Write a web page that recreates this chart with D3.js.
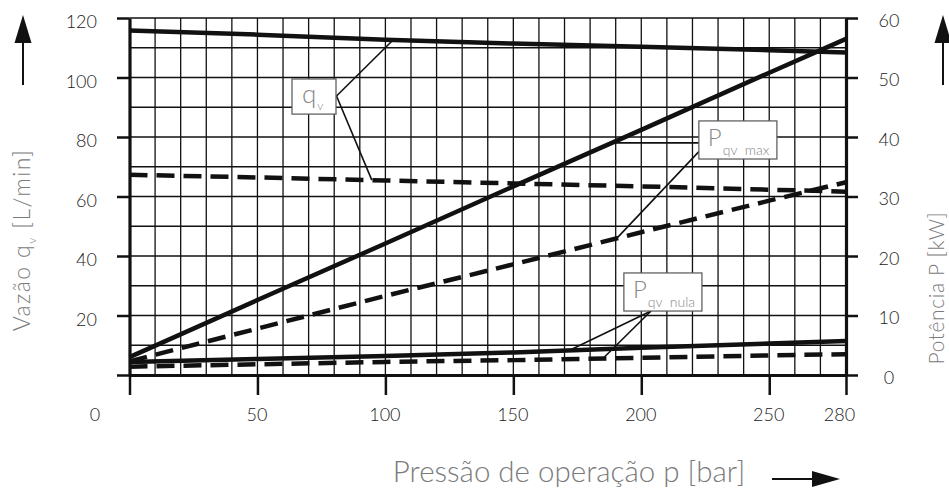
<!DOCTYPE html>
<html>
<head>
<meta charset="utf-8">
<script src="https://cdn.jsdelivr.net/npm/d3@7"></script>
<style>
body { margin: 0; background: #fff; }
text { font-family: Lato, "Open Sans", sans-serif; font-weight: 300; }
</style>
</head>
<body>
<svg></svg>
<script>
var width = 949;
var height = 488;

// pressure [bar] at which curves were read
var pressures = [0, 50, 100, 150, 200, 250, 280];
// flow q_v [L/min]
var qvMax  = [115.8, 114.4, 112.7, 111.4, 110.3, 109.2, 108.4];
var qvNula = [67.3, 66.4, 65.4, 64.4, 63.4, 62.3, 61.6];
// power P [kW]
var pMax   = [3.0, 12.6, 22.1, 31.7, 41.2, 50.8, 56.5];
var pMaxD  = [2.3, 7.8, 13.3, 18.6, 24.0, 29.3, 32.4];
var pNula  = [2.2, 2.7, 3.2, 3.8, 4.6, 5.3, 5.7];
var pNulaD = [1.4, 1.8, 2.2, 2.5, 2.9, 3.3, 3.5];

var xTicks = [0, 50, 100, 150, 200, 250, 280];
var qTicks = [0, 20, 40, 60, 80, 100, 120];
var pTicks = [0, 10, 20, 30, 40, 50, 60];

var svg = d3.select("svg").attr("width", width).attr("height", height);

var x = d3.scaleLinear().domain([0, 280]).range([129.5, 846]);
var yQ = d3.scaleLinear().domain([0, 120]).range([375, 18]);
var yP = d3.scaleLinear().domain([0, 60]).range([375, 18]);

var curves = [
  {values: qvMax,  y: yQ, dashed: false},
  {values: qvNula, y: yQ, dashed: true},
  {values: pMax,   y: yP, dashed: false},
  {values: pMaxD,  y: yP, dashed: true},
  {values: pNula,  y: yP, dashed: false},
  {values: pNulaD, y: yP, dashed: true}
];

// grid
var grid = svg.append("g").attr("class", "grid")
  .attr("stroke", "#111").attr("stroke-width", 1.3);
grid.selectAll("line.v").data(d3.range(10, 280, 10)).enter()
  .append("line").attr("class", "v")
  .attr("x1", function(d){ return x(d); }).attr("x2", function(d){ return x(d); })
  .attr("y1", yQ(0)).attr("y2", yQ(120));
grid.selectAll("line.h").data(d3.range(10, 121, 10)).enter()
  .append("line").attr("class", "h")
  .attr("x1", x(0)).attr("x2", x(280))
  .attr("y1", function(d){ return yQ(d); }).attr("y2", function(d){ return yQ(d); });

// annotation boxes + leaders (in data coordinates)
function at(values, p){
  return d3.scaleLinear().domain(pressures).range(values)(p);
}

var notes = [
  {main: "q", sub: "v", box: [63.5, 99.5, 80.7, 87.7], size: 26, subSize: 12,
   leaders: [
     {from: [x(80.9), yQ(93.8)], to: [x(103), yQ(at(qvMax, 103))]},
     {from: [x(80.9), yQ(93.8)], to: [x(94.7), yQ(at(qvNula, 94.7))]}
   ]},
  {main: "P", sub: "qv  max", box: [222.5, 85.4, 253, 72.6], size: 24, subSize: 14,
   leaders: [
     {from: [x(222.5), yP(at(pMax, 188.5))], to: [x(188.5), yP(at(pMax, 188.5))]},
     {from: [x(222.5), yQ(75.1)], to: [x(190.4), yP(at(pMaxD, 190.4))]}
   ]},
  {main: "P", sub: "qv  nula", box: [193.2, 34.3, 223.7, 21.5], size: 24, subSize: 14,
   leaders: [
     {from: [x(203.8), yQ(21.5)], to: [x(172), yP(at(pNula, 172))]},
     {from: [x(203.8), yQ(21.5)], to: [x(185), yP(at(pNulaD, 185))]}
   ]}
];

var noteG = svg.append("g").attr("class", "notes");
notes.forEach(function(n){
  n.leaders.forEach(function(l){
    noteG.append("line")
      .attr("x1", l.from[0]).attr("y1", l.from[1])
      .attr("x2", l.to[0]).attr("y2", l.to[1])
      .attr("stroke", "#111").attr("stroke-width", 1.6);
  });
  var bx = x(n.box[0]), by = yQ(n.box[1]);
  var bw = x(n.box[2]) - bx, bh = yQ(n.box[3]) - by;
  noteG.append("rect")
    .attr("x", bx).attr("y", by).attr("width", bw).attr("height", bh)
    .attr("fill", "#fff").attr("stroke", "#555").attr("stroke-width", 1.2);
  var t = noteG.append("text")
    .attr("x", bx + (n.main == "q" ? 10 : 9))
    .attr("y", by + (n.main == "q" ? 24 : 25))
    .attr("fill", "#888").attr("font-size", n.size);
  t.append("tspan").text(n.main);
  t.append("tspan").attr("dy", n.main == "q" ? 7 : 9).attr("dx", 1)
    .attr("font-size", n.subSize).attr("xml:space", "preserve")
    .style("white-space", "pre").text(n.sub);
});

// curves
var curveG = svg.append("g").attr("class", "curves");
curves.forEach(function(c){
  var line = d3.line()
    .x(function(d, i){ return x(pressures[i]); })
    .y(function(d){ return c.y(d); });
  curveG.append("path")
    .attr("d", line(c.values))
    .attr("fill", "none")
    .attr("stroke", "#111")
    .attr("stroke-width", 4.5)
    .attr("stroke-dasharray", c.dashed ? "18,9" : null);
});

// axes
function styleAxis(g){
  g.selectAll(".tick line").attr("stroke", "#111").attr("stroke-width", 2.5);
  g.select(".domain").attr("stroke", "#111").attr("stroke-width", 3.2);
  g.selectAll("text").attr("fill", "#222").attr("font-size", 18)
    .style("font-family", "Lato, 'Open Sans', sans-serif").style("font-weight", 300);
}

var leftAxis = svg.append("g").attr("transform", "translate(" + x(0) + ",0)")
  .call(d3.axisLeft(yQ).tickValues(qTicks).tickSize(12.5).tickPadding(20).tickSizeOuter(0));
styleAxis(leftAxis);
leftAxis.selectAll(".tick text").filter(function(d){ return d === 0; }).remove();
leftAxis.selectAll(".tick text").attr("dy", "0.55em");

var rightAxis = svg.append("g").attr("transform", "translate(" + x(280) + ",0)")
  .call(d3.axisRight(yP).tickValues(pTicks).tickSize(12).tickSizeOuter(0));
styleAxis(rightAxis);
rightAxis.selectAll(".tick text").attr("x", 43).attr("text-anchor", "middle").attr("dy", "0.45em");

var bottomAxis = svg.append("g").attr("transform", "translate(0," + yQ(0) + ")")
  .call(d3.axisBottom(x).tickValues(xTicks).tickSize(20).tickPadding(13).tickSizeOuter(0));
styleAxis(bottomAxis);
bottomAxis.selectAll(".tick text")
  .attr("dx", function(d){ return d === 0 ? -35 : d === 280 ? -7 : -1; });

// axis titles
var gray = "#7a7a7a";
var lt = svg.append("text")
  .attr("transform", "translate(30,240) rotate(-90)")
  .attr("text-anchor", "middle").attr("fill", gray).attr("font-size", 23)
  .attr("letter-spacing", 1.4);
lt.append("tspan").text("Vazão q");
lt.append("tspan").attr("font-size", 12).attr("dy", 6).text("v");
lt.append("tspan").attr("dy", -6).text(" [L/min]");

svg.append("text")
  .attr("transform", "translate(944,288) rotate(-90)")
  .attr("text-anchor", "middle").attr("fill", gray).attr("font-size", 21)
  .attr("letter-spacing", 0.6)
  .text("Potência P [kW]");

svg.append("text")
  .attr("x", 569).attr("y", 482)
  .attr("text-anchor", "middle").attr("fill", gray).attr("font-size", 29.5)
  .text("Pressão de operação p [bar]");

// arrows
function upArrow(cx){
  svg.append("line").attr("x1", cx).attr("x2", cx).attr("y1", 40).attr("y2", 85)
    .attr("stroke", "#111").attr("stroke-width", 2);
  svg.append("path")
    .attr("d", "M" + cx + ",15 L" + (cx + 8.5) + ",43 L" + (cx - 8.5) + ",43 Z")
    .attr("fill", "#111");
}
upArrow(23);
upArrow(943);

svg.append("line").attr("x1", 772).attr("x2", 814).attr("y1", 479).attr("y2", 479)
  .attr("stroke", "#111").attr("stroke-width", 2);
svg.append("path").attr("d", "M840,479 L812,471 L812,487 Z").attr("fill", "#111");
</script>
</body>
</html>
